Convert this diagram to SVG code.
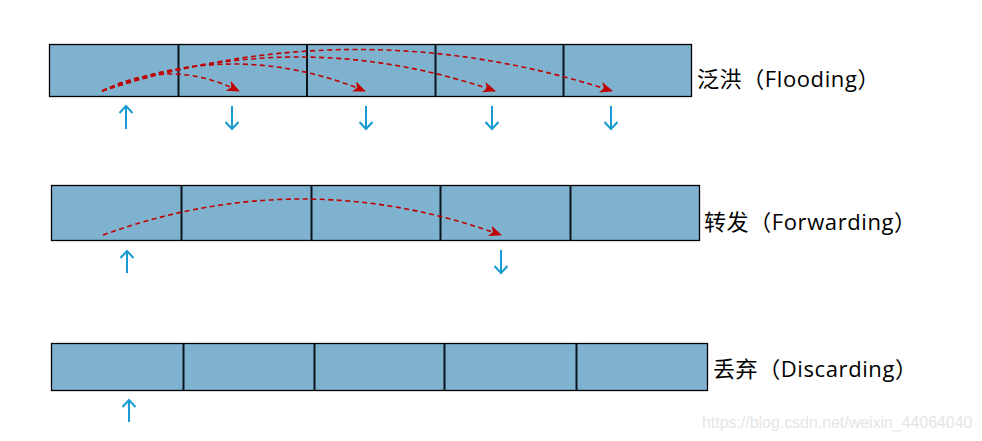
<svg xmlns="http://www.w3.org/2000/svg" width="982" height="441" viewBox="0 0 982 441">
<defs>
<style>
.bar{fill:#7fb2cf;stroke:#000;stroke-width:1.3}
.div{stroke:#0a141c;stroke-width:2}
.red{fill:none;stroke:#c00000;stroke-width:1.6;stroke-dasharray:5 3.5}
.blue{fill:none;stroke:#189bd2;stroke-width:2}
.lbl{font-family:"Open Sans","Noto Sans CJK SC",sans-serif;font-size:22px;letter-spacing:0.6px;fill:#000}
.wm{font-family:"Liberation Sans",Arial,sans-serif;font-size:15.9px;fill:#e6e6e6}
</style>
<marker id="rh" viewBox="0 0 13 11" refX="12" refY="5.5" markerWidth="13" markerHeight="11" markerUnits="userSpaceOnUse" orient="auto">
<path d="M0,0 L13,5.5 L0,11 L3.5,5.5 Z" fill="#c00000"/>
</marker>
</defs>
<rect width="982" height="441" fill="#fff"/>

<g id="flooding">
<rect class="bar" x="49.5" y="44.5" width="642" height="52"/>
<line class="div" x1="178.5" y1="44.5" x2="178.5" y2="96.5"/>
<line class="div" x1="307" y1="44.5" x2="307" y2="96.5"/>
<line class="div" x1="435.5" y1="44.5" x2="435.5" y2="96.5"/>
<line class="div" x1="563.5" y1="44.5" x2="563.5" y2="96.5"/>
<text class="lbl" x="697" y="86.5">泛洪（Flooding）</text>
</g>

<g id="forwarding">
<rect class="bar" x="51.5" y="185.5" width="648" height="55"/>
<line class="div" x1="181.5" y1="185.5" x2="181.5" y2="240.5"/>
<line class="div" x1="311.5" y1="185.5" x2="311.5" y2="240.5"/>
<line class="div" x1="440.5" y1="185.5" x2="440.5" y2="240.5"/>
<line class="div" x1="570.5" y1="185.5" x2="570.5" y2="240.5"/>
<text class="lbl" x="704" y="229.5">转发（Forwarding）</text>
</g>

<g id="discarding">
<rect class="bar" x="51.5" y="343.5" width="656" height="47"/>
<line class="div" x1="183.5" y1="343.5" x2="183.5" y2="390.5"/>
<line class="div" x1="314.5" y1="343.5" x2="314.5" y2="390.5"/>
<line class="div" x1="444.5" y1="343.5" x2="444.5" y2="390.5"/>
<line class="div" x1="576.5" y1="343.5" x2="576.5" y2="390.5"/>
<text class="lbl" x="713" y="376.5">丢弃（Discarding）</text>
</g>

<g id="connectors">
<path class="red" d="M102,91 Q170,57 239,91" marker-end="url(#rh)"/>
<path class="red" d="M102,91 Q233,37 365,91" marker-end="url(#rh)"/>
<path class="red" d="M102,91 Q298,23 495,91" marker-end="url(#rh)"/>
<path class="red" d="M102,91 Q357,8 612,91" marker-end="url(#rh)"/>
<path class="red" d="M103,235 Q302,163 501,235" marker-end="url(#rh)"/>

<path class="blue" d="M126,129 V106 M119.5,113 L126,106 L132.5,113"/>
<path class="blue" d="M232,106 V129 M225.5,122 L232,129 L238.5,122"/>
<path class="blue" d="M366,106 V129 M359.5,122 L366,129 L372.5,122"/>
<path class="blue" d="M492,106 V129 M485.5,122 L492,129 L498.5,122"/>
<path class="blue" d="M611,106 V129 M604.5,122 L611,129 L617.5,122"/>

<path class="blue" d="M127,273 V251 M120.5,258 L127,251 L133.5,258"/>
<path class="blue" d="M501,250 V273 M494.5,266 L501,273 L507.5,266"/>

<path class="blue" d="M129,422 V400 M122.5,407 L129,400 L135.5,407"/>
</g>

<text class="wm" x="702" y="428">https://blog.csdn.net/weixin_44064040</text>
</svg>
